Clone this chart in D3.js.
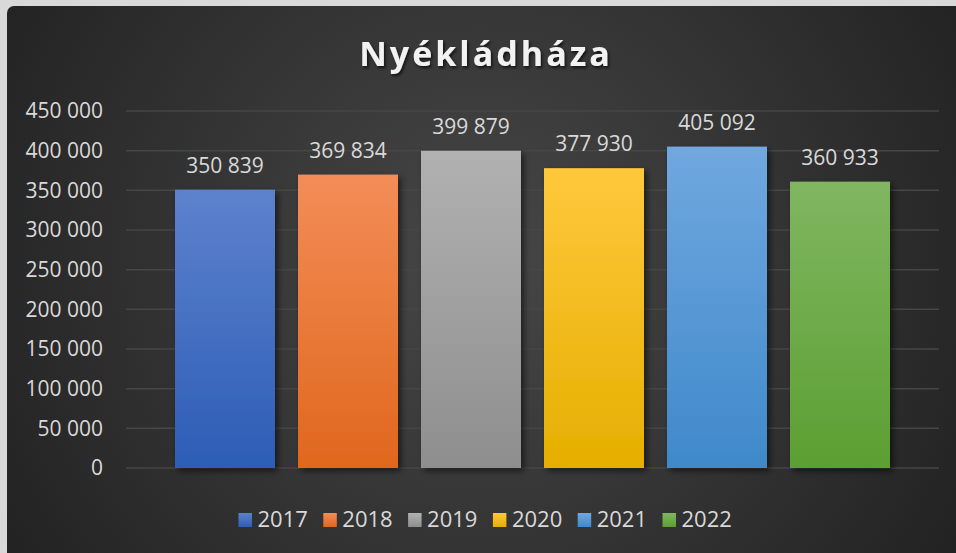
<!DOCTYPE html>
<html>
<head>
<meta charset="utf-8">
<script src="https://cdn.jsdelivr.net/npm/d3@7/dist/d3.min.js"></script>
<style>
  html, body { margin: 0; padding: 0; background: #d9d9d9; }
  svg { display: block; }
  text { font-family: "Open Sans", sans-serif; }
</style>
</head>
<body>
<svg id="chart" width="956" height="553"></svg>
<script>
const title = 'Nyékládháza';
const years = ['2017', '2018', '2019', '2020', '2021', '2022'];
const values = [350839, 369834, 399879, 377930, 405092, 360933];
const yTicks = [0, 50000, 100000, 150000, 200000, 250000, 300000, 350000, 400000, 450000];
const colorsTop = ['#5d82cd', '#f38d57', '#b1b1b1', '#ffc83c', '#70a8df', '#80b660'];
const colorsBottom = ['#2d5db6', '#e0671d', '#8e8e8e', '#e6af00', '#3f89cb', '#5c9f32'];

const svg = d3.select('#chart');
const defs = svg.append('defs');

const bg = defs.append('radialGradient')
  .attr('id', 'bg')
  .attr('gradientUnits', 'userSpaceOnUse')
  .attr('cx', 480).attr('cy', 260).attr('r', 560);
bg.append('stop').attr('offset', '0%').attr('stop-color', '#474747');
bg.append('stop').attr('offset', '100%').attr('stop-color', '#222222');

years.forEach((y, i) => {
  const g = defs.append('linearGradient')
    .attr('id', 'bar' + i)
    .attr('x1', 0).attr('y1', 0).attr('x2', 0).attr('y2', 1);
  g.append('stop').attr('offset', '0%').attr('stop-color', colorsTop[i]);
  g.append('stop').attr('offset', '100%').attr('stop-color', colorsBottom[i]);
});

const shadow = defs.append('filter')
  .attr('id', 'shadow')
  .attr('x', '-20%').attr('y', '-20%').attr('width', '140%').attr('height', '140%');
shadow.append('feDropShadow')
  .attr('dx', 3).attr('dy', 3).attr('stdDeviation', 3)
  .attr('flood-color', '#000').attr('flood-opacity', 0.55);

const titleShadow = defs.append('filter')
  .attr('id', 'tshadow')
  .attr('x', '-10%').attr('y', '-30%').attr('width', '120%').attr('height', '160%');
titleShadow.append('feDropShadow')
  .attr('dx', 1.5).attr('dy', 2).attr('stdDeviation', 1.5)
  .attr('flood-color', '#000').attr('flood-opacity', 0.7);

// background panel
svg.append('rect')
  .attr('x', 7).attr('y', 6)
  .attr('width', 970).attr('height', 570)
  .attr('rx', 7)
  .attr('fill', 'url(#bg)');

const paddingLeft = 126;
const paddingRight = 17;
const paddingTop = 111;
const paddingBottom = 85;
const width = 956;
const height = 553;

const y = d3.scaleLinear()
  .domain([0, 450000])
  .range([height - paddingBottom, paddingTop]);

const x = d3.scaleBand()
  .domain(years)
  .range([163.5, 901.5])
  .paddingInner(23 / 123)
  .paddingOuter(23 / 246);

const fmt = v => d3.format(',')(v).replace(/,/g, ' ');

// gridlines
svg.append('g')
  .attr('class', 'grid')
  .selectAll('line')
  .data(yTicks)
  .enter()
  .append('line')
  .attr('x1', paddingLeft)
  .attr('x2', width - paddingRight)
  .attr('y1', d => y(d))
  .attr('y2', d => y(d))
  .attr('stroke', '#464646')
  .attr('stroke-width', 1.5);

// y axis labels
const yAxis = svg.append('g')
  .attr('transform', 'translate(' + 103 + ',0)')
  .call(d3.axisLeft(y).tickValues(yTicks).tickFormat(fmt).tickSize(0).tickPadding(0));
yAxis.select('.domain').remove();
yAxis.selectAll('text')
  .attr('fill', '#d9d9d9')
  .attr('font-size', 21)
  .attr('font-family', '"Open Sans", sans-serif');

// bars
svg.append('g')
  .attr('class', 'bars')
  .selectAll('rect')
  .data(values)
  .enter()
  .append('rect')
  .attr('x', (d, i) => x(years[i]))
  .attr('width', x.bandwidth())
  .attr('y', d => y(d))
  .attr('height', d => y(0) - y(d))
  .attr('fill', (d, i) => 'url(#bar' + i + ')')
  .attr('filter', 'url(#shadow)');

// value labels
svg.append('g')
  .attr('class', 'labels')
  .selectAll('text')
  .data(values)
  .enter()
  .append('text')
  .attr('x', (d, i) => x(years[i]) + x.bandwidth() / 2)
  .attr('y', d => y(d) - 17)
  .attr('text-anchor', 'middle')
  .attr('fill', '#d9d9d9')
  .attr('font-size', 21)
  .text(fmt);

// title
svg.append('text')
  .attr('x', 486)
  .attr('y', 66)
  .attr('text-anchor', 'middle')
  .attr('fill', '#f2f2f2')
  .attr('font-size', 34)
  .attr('font-weight', 'bold')
  .attr('letter-spacing', 3)
  .attr('filter', 'url(#tshadow)')
  .text(title);

// legend
const legend = svg.append('g')
  .attr('class', 'legend')
  .selectAll('g')
  .data(years)
  .enter()
  .append('g')
  .attr('transform', (d, i) => 'translate(' + (238.5 + i * 84.8) + ',' + 513 + ')');
legend.append('rect')
  .attr('width', 13.5)
  .attr('height', 14)
  .attr('fill', (d, i) => 'url(#bar' + i + ')');
legend.append('text')
  .attr('x', 19)
  .attr('y', 14)
  .attr('fill', '#d9d9d9')
  .attr('font-size', 22)
  .text(d => d);
</script>
</body>
</html>
